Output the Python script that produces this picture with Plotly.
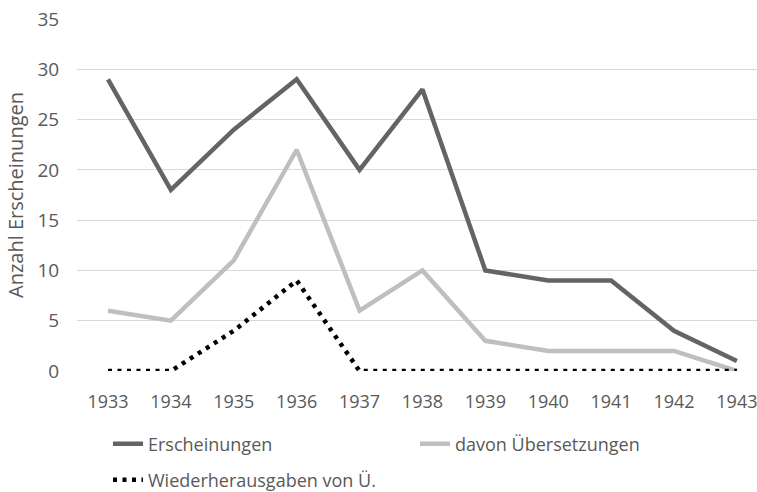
import plotly.graph_objects as go

years = [1933, 1934, 1935, 1936, 1937, 1938, 1939, 1940, 1941, 1942, 1943]
erscheinungen = [29, 18, 24, 29, 20, 28, 10, 9, 9, 4, 1]
uebersetzungen = [6, 5, 11, 22, 6, 10, 3, 2, 2, 2, 0]
wiederherausgaben = [0, 0, 4, 9, 0, 0, 0, 0, 0, 0, 0]
y_ticks = [0, 5, 10, 15, 20, 25, 30, 35]

fig = go.Figure()
fig.add_trace(go.Scatter(x=years, y=erscheinungen, mode="lines", name="Erscheinungen",
                         line=dict(color="#646464", width=4.5), legend="legend"))
fig.add_trace(go.Scatter(x=years, y=uebersetzungen, mode="lines", name="davon Übersetzungen",
                         line=dict(color="#bfbfbf", width=4.5), legend="legend"))
fig.add_trace(go.Scatter(x=years, y=wiederherausgaben, mode="lines", name="Wiederherausgaben von Ü.",
                         line=dict(color="#000000", width=4.5, dash="4px,5.5px"), legend="legend2"))

W, H = 757, 492
font_family = "Open Sans, Liberation Sans, sans-serif"
txt = "#595959"
fig.update_layout(
    width=W, height=H,
    margin=dict(l=77, r=0, t=19, b=121, autoexpand=False),
    paper_bgcolor="white", plot_bgcolor="white",
    font=dict(family=font_family, size=18, color=txt),
    xaxis=dict(range=[1932.507, 1943.32], tickmode="array", tickvals=years,
               ticktext=[str(y) for y in years], showgrid=False, zeroline=False,
               showline=False, ticks="outside", ticklen=14, tickcolor="rgba(0,0,0,0)",
               ticklabeloverflow="allow",
               tickfont=dict(size=18, color=txt)),
    yaxis=dict(range=[0, 35], tickmode="array", tickvals=y_ticks, showgrid=True,
               gridcolor="#d9d9d9", gridwidth=1, zeroline=False, showline=False,
               ticks="outside", ticklen=13, tickcolor="rgba(0,0,0,0)",
               ticklabeloverflow="allow",
               tickfont=dict(size=19, color=txt),
               title=dict(text="Anzahl Erscheinungen", font=dict(size=20, color=txt),
                          standoff=8)),
    legend=dict(orientation="h", xref="container", yref="container",
                x=108 / W, y=1 - 444 / H, xanchor="left", yanchor="middle",
                entrywidth=262, entrywidthmode="pixels",
                font=dict(size=18, color=txt), bgcolor="rgba(0,0,0,0)"),
    legend2=dict(orientation="h", xref="container", yref="container",
                 x=108 / W, y=1 - 480 / H, xanchor="left", yanchor="middle",
                 font=dict(size=18, color=txt), bgcolor="rgba(0,0,0,0)"),
    showlegend=True,
)
fig.write_html("out.html", config={"displayModeBar": False},
               post_script="document.body.style.margin='0';document.body.style.overflow='hidden';")
